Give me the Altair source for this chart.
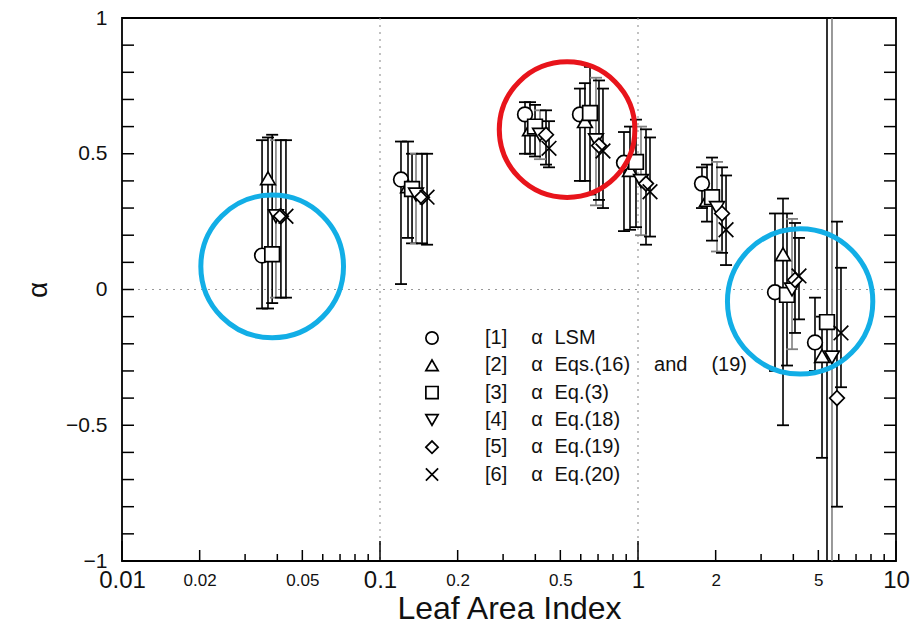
import math
import altair as alt
import pandas as pd

# ---- data -------------------------------------------------------------
series_ids = ["1", "2", "3", "4", "5", "6"]
series_labels = [
    "[1]\u2003\u2009\u03b1\u2002\u200aLSM",
    "[2]\u2003\u2009\u03b1\u2002\u200aEqs.(16)\u2003\u2009and\u2003\u2009(19)",
    "[3]\u2003\u2009\u03b1\u2002\u200aEq.(3)",
    "[4]\u2003\u2009\u03b1\u2002\u200aEq.(18)",
    "[5]\u2003\u2009\u03b1\u2002\u200aEq.(19)",
    "[6]\u2003\u2009\u03b1\u2002\u200aEq.(20)",
]

# leaf area index of each point (series offset slightly for readability)
lai = {
    "1": [0.0349, 0.1206, 0.3648, 0.5957, 0.8824, 1.770, 3.396, 4.853],
    "2": [0.0368, 0.1284, 0.3814, 0.6229, 0.9311, 1.851, 3.648, 5.167],
    "3": [0.0382, 0.1331, 0.3989, 0.6516, 0.9822, 1.936, 3.780, 5.402],
    "4": [0.0395, 0.1379, 0.4171, 0.6873, 1.027, 2.024, 3.953, 5.648],
    "5": [0.0413, 0.1455, 0.4400, 0.7059, 1.074, 2.117, 4.060, 5.905],
    "6": [0.0432, 0.1522, 0.4519, 0.7316, 1.113, 2.194, 4.207, 6.120],
}
alpha = {
    "1": [0.125, 0.405, 0.645, 0.645, 0.467, 0.39, -0.01, -0.195],
    "2": [0.41, 0.38, 0.59, 0.62, 0.44, 0.33, 0.13, -0.245],
    "3": [0.13, 0.37, 0.60, 0.65, 0.47, 0.34, -0.02, -0.12],
    "4": [0.27, 0.35, 0.57, 0.55, 0.40, 0.30, 0.00, -0.25],
    "5": [0.27, 0.34, 0.57, 0.53, 0.39, 0.28, 0.035, -0.40],
    "6": [0.27, 0.34, 0.52, 0.51, 0.36, 0.22, 0.05, -0.16],
}
alpha_lo = {
    "1": [-0.07, 0.02, 0.50, 0.40, 0.215, 0.30, -0.30, -0.30],
    "2": [-0.07, 0.19, 0.50, 0.40, 0.22, 0.25, -0.50, -0.62],
    "3": [-0.05, 0.17, 0.49, 0.35, 0.23, 0.18, -0.28, -1.8],
    "4": [-0.03, 0.17, 0.48, 0.31, 0.20, 0.14, -0.22, -1.8],
    "5": [-0.03, 0.17, 0.46, 0.33, 0.165, 0.135, -0.16, -0.80],
    "6": [-0.03, 0.165, 0.45, 0.30, 0.195, 0.09, -0.11, -0.36],
}
alpha_hi = {
    "1": [0.55, 0.545, 0.69, 0.74, 0.58, 0.45, 0.28, -0.03],
    "2": [0.56, 0.545, 0.69, 0.76, 0.60, 0.46, 0.335, -0.10],
    "3": [0.57, 0.50, 0.68, 0.82, 0.626, 0.486, 0.28, 1.8],
    "4": [0.55, 0.50, 0.66, 0.78, 0.60, 0.47, 0.26, 1.8],
    "5": [0.55, 0.50, 0.66, 0.77, 0.59, 0.45, 0.245, 0.25],
    "6": [0.55, 0.50, 0.62, 0.74, 0.56, 0.42, 0.19, 0.08],
}

# highlighted groups (rings)
ring_lai = [0.0382, 0.531, 4.25]
ring_alpha = [0.085, 0.589, -0.044]
ring_color = ["#12aee6", "#e8141b", "#12aee6"]
ring_radius = [80.5, 76.5, 82.0]

# axis tick positions
x_decades = [0.01, 0.1, 1, 10]
x_mids = [0.02, 0.05, 0.2, 0.5, 2, 5]
x_minor = [0.03, 0.04, 0.06, 0.07, 0.08, 0.09,
           0.3, 0.4, 0.6, 0.7, 0.8, 0.9,
           3, 4, 6, 7, 8, 9]
x_labels = [0.01, 0.02, 0.05, 0.1, 0.2, 0.5, 1, 2, 5, 10]
y_ticks = [-0.9, -0.8, -0.7, -0.6, -0.5, -0.4, -0.3, -0.2, -0.1, 0,
           0.1, 0.2, 0.3, 0.4, 0.5, 0.6, 0.7, 0.8, 0.9]
y_labels = [-1, -0.5, 0, 0.5, 1]

# ---- tables -----------------------------------------------------------
rows = []
for sid, lab in zip(series_ids, series_labels):
    for i in range(len(lai[sid])):
        rows.append({"series": lab, "sid": sid, "lai": lai[sid][i],
                     "alpha": alpha[sid][i], "lo": alpha_lo[sid][i],
                     "hi": alpha_hi[sid][i]})
df = pd.DataFrame(rows)

rings = pd.DataFrame({"lai": ring_lai, "alpha": ring_alpha,
                      "color": ring_color,
                      "size": [math.pi * r * r for r in ring_radius]})

# ---- layout constants --------------------------------------------------
W, H = 774, 543
FONT = "Liberation Sans"
LEG_X, LEG_Y, LEG_STEP, LEG_TEXT_X = 310, 320, 27.3, 363

xs = alt.Scale(type="log", domain=[0.01, 10], nice=False)
ys = alt.Scale(domain=[-1, 1], nice=False)
x_path = "M-1,-1L1,1M-1,1L1,-1"
shape_scale = alt.Scale(
    domain=series_labels,
    range=["circle", "triangle-up", "square", "triangle-down", "diamond", x_path])

x_axis = alt.Axis(
    title="Leaf Area Index", values=x_labels, format="~g", ticks=False,
    tickSize=0, domain=False, grid=False, labelFlush=False,
    labelFont=FONT, labelColor="#111", labelBaseline="middle",
    labelPadding=19,
    labelFontSize={"condition": {
        "test": "abs(log(datum.value)/LN10 - round(log(datum.value)/LN10)) < 0.001",
        "value": 24}, "value": 17},
    titleFont=FONT, titleFontSize=32, titleFontWeight="normal",
    titleColor="#111", titlePadding=1,
)
y_axis = alt.Axis(
    title="\u03b1", values=y_labels, format="~g", ticks=False, tickSize=0,
    domain=False, grid=False, labelFont=FONT, labelFontSize=21,
    labelColor="#111", labelPadding=15, titleFont=FONT, titleFontSize=28,
    titleFontWeight="normal", titleColor="#111", titlePadding=13,
)


def X(field):
    return alt.X(field, type="quantitative", scale=xs, axis=x_axis)


def Y(field):
    return alt.Y(field, type="quantitative", scale=ys, axis=y_axis)


# dotted reference lines
vgrid = alt.Chart(pd.DataFrame({"v": [0.1, 1]})).mark_rule(
    color="#999", strokeDash=[2, 5], strokeWidth=1.2).encode(x=X("v"))
hgrid = alt.Chart(pd.DataFrame({"v": [0]})).mark_rule(
    color="#999", strokeDash=[2, 5], strokeWidth=1.2).encode(y=Y("v"))

# inward ticks on the bottom axis
def xticks(vals, length):
    return alt.Chart(pd.DataFrame({"v": vals})).mark_rule(
        color="black", strokeWidth=1.5).encode(
        x=X("v"), y=alt.value(H), y2=alt.value(H - length))

tick_layers = [xticks(x_decades, 20), xticks(x_mids, 11), xticks(x_minor, 7)]

# inward ticks on the left and right frame
ytick_df = pd.DataFrame({"v": y_ticks})
tick_layers.append(alt.Chart(ytick_df).mark_rule(color="black", strokeWidth=1.5)
                   .encode(y=Y("v"), x=alt.value(0), x2=alt.value(12)))
tick_layers.append(alt.Chart(ytick_df).mark_rule(color="black", strokeWidth=1.5)
                   .encode(y=Y("v"), x=alt.value(W - 12), x2=alt.value(W)))

bar_color = alt.Color("sid:N", scale=alt.Scale(
    domain=series_ids, range=["#000", "#000", "#000", "#808080", "#000", "#000"]),
    legend=None)
bar_width = alt.StrokeWidth("sid:N", scale=alt.Scale(
    domain=series_ids, range=[1.6, 1.6, 1.6, 5.5, 1.6, 1.6]), legend=None)

bars = alt.Chart(df).mark_rule(clip=True).encode(
    x=X("lai"), y=Y("lo"), y2="hi", color=bar_color, strokeWidth=bar_width)
caps = alt.Chart(df).transform_fold(["lo", "hi"], as_=["end", "val"]).mark_tick(
    orient="horizontal", size=12, thickness=1.8, clip=True, opacity=1).encode(
    x=X("lai"), y=Y("val:Q"), color=bar_color)

points = alt.Chart(df).mark_point(
    filled=False, strokeWidth=1.7, size=215).encode(
    x=X("lai"), y=Y("alpha"),
    fill=alt.value("white"), stroke=alt.value("black"),
    opacity=alt.value(1), fillOpacity=alt.value(1),
    shape=alt.Shape("series:N", scale=shape_scale, legend=None),
)

# key: one symbol and one label per series
key_layers = []
for i, lab in enumerate(series_labels):
    row = pd.DataFrame({"series": [lab]})
    py = LEG_Y + LEG_STEP * i
    key_layers.append(alt.Chart(row).mark_point(
        filled=False, strokeWidth=1.7, size=150).encode(
        x=alt.value(LEG_X), y=alt.value(py),
        fill=alt.value("white"), stroke=alt.value("black"),
        opacity=alt.value(1), fillOpacity=alt.value(1),
        shape=alt.Shape("series:N", scale=shape_scale, legend=None)))
    key_layers.append(alt.Chart(row).mark_text(
        align="left", baseline="middle", font=FONT, fontSize=20,
        color="#111").encode(
        x=alt.value(LEG_TEXT_X), y=alt.value(py), text="series:N"))

ring_layer = alt.Chart(rings).mark_point(
    shape="circle", filled=False, strokeWidth=5, opacity=1).encode(
    x=X("lai"), y=Y("alpha"),
    size=alt.Size("size:Q", scale=None),
    color=alt.Color("color:N", scale=None))

chart = alt.layer(
    vgrid, hgrid, *tick_layers, bars, caps, points, *key_layers, ring_layer
).properties(
    width=W, height=H,
    autosize=alt.AutoSizeParams(type="none"),
    padding={"left": 122, "top": 18, "right": 24, "bottom": 70},
    background="white",
).configure_view(
    stroke="black", strokeWidth=1.8
)

chart.save("out.html", embed_options={"renderer": "svg", "actions": False})
